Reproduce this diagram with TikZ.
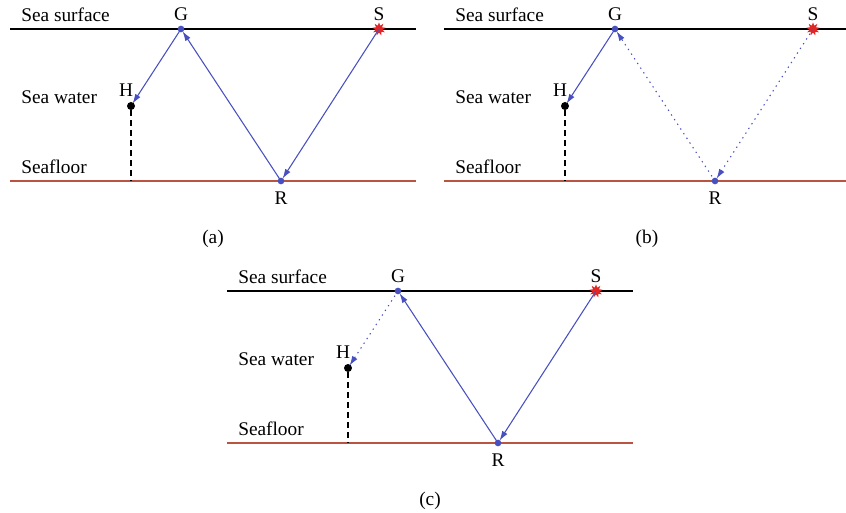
\documentclass[tikz,border=0pt]{standalone}
\usepackage{fontspec}
\setmainfont{Liberation Serif}
\usetikzlibrary{arrows.meta,shapes.geometric}
\definecolor{rayBlue}{RGB}{72,80,192}
\definecolor{floorRed}{RGB}{184,84,64}
\definecolor{shotRed}{RGB}{226,38,38}
\tikzset{
  x=0.75pt, y=-0.75pt,
  font=\fontsize{14.5}{17}\selectfont,
  surfaceline/.style={draw=black, line width=0.8pt},
  floorline/.style={draw=floorRed, line width=0.9pt},
  ray/.style={
    -{Latex[length=2.6mm,width=1.6mm]},
    draw=rayBlue,
    line width=0.8pt,
    shorten >=2pt
  },
  dotray/.style={
    ray,
    dash pattern=on 1pt off 3.2pt
  },
  gauge/.style={circle, fill=rayBlue, inner sep=0pt, minimum size=5pt},
  hydro/.style={circle, fill=black, inner sep=0pt, minimum size=6pt},
  shot/.style={star, star points=9, star point ratio=1.9, fill=shotRed,
    inner sep=0pt, minimum size=10pt},
  layerlab/.style={anchor=west, inner sep=0pt},
  ptlab/.style={inner sep=0pt},
  caption/.style={inner sep=0pt}
}
% one panel: #1 name suffix, #2 S->R, #3 R->G, #4 G->H, #5 caption
\newcommand{\seapanel}[5]{
  \draw[surfaceline] (10,29) -- (416,29);
  \draw[floorline] (10,181) -- (416,181);
  \node[layerlab] (surf#1) at (21,15) {Sea surface};
  \node[layerlab] (water#1) at (21,97) {Sea water};
  \node[layerlab] (floor#1) at (21,167) {Seafloor};
  \node[gauge] (G#1) at (181,29) {};
  \node[gauge] (R#1) at (281,181) {};
  \node[hydro] (H#1) at (131,106) {};
  \node[shot] (S#1) at (379,29) {};
  \coordinate (B#1) at (131,181);
  \draw[dash pattern=on 4.5pt off 3pt, line width=0.9pt] (H#1) -- (B#1);
  \draw[#2] (S#1.center) -- (R#1.center);
  \draw[#3] (R#1.center) -- (G#1.center);
  \draw[#4] (G#1.center) -- (H#1.center);
  \node[ptlab] (Glab#1) at (181,14) {G};
  \node[ptlab] (Slab#1) at (379,14) {S};
  \node[ptlab] (Hlab#1) at (126,90) {H};
  \node[ptlab] (Rlab#1) at (281,198) {R};
  \node[caption] (cap#1) at (213,239) {(#5)};
}

\begin{document}
\begin{tikzpicture}
\useasboundingbox (0,0) rectangle (846,513);

\begin{scope}
  \seapanel{a}{ray}{ray}{ray}{a}
\end{scope}

\begin{scope}[shift={(434,0)}]
  \seapanel{b}{dotray}{dotray}{ray}{b}
\end{scope}

\begin{scope}[shift={(217,262)}]
  \seapanel{c}{ray}{ray}{dotray}{c}
\end{scope}

\end{tikzpicture}
\end{document}
